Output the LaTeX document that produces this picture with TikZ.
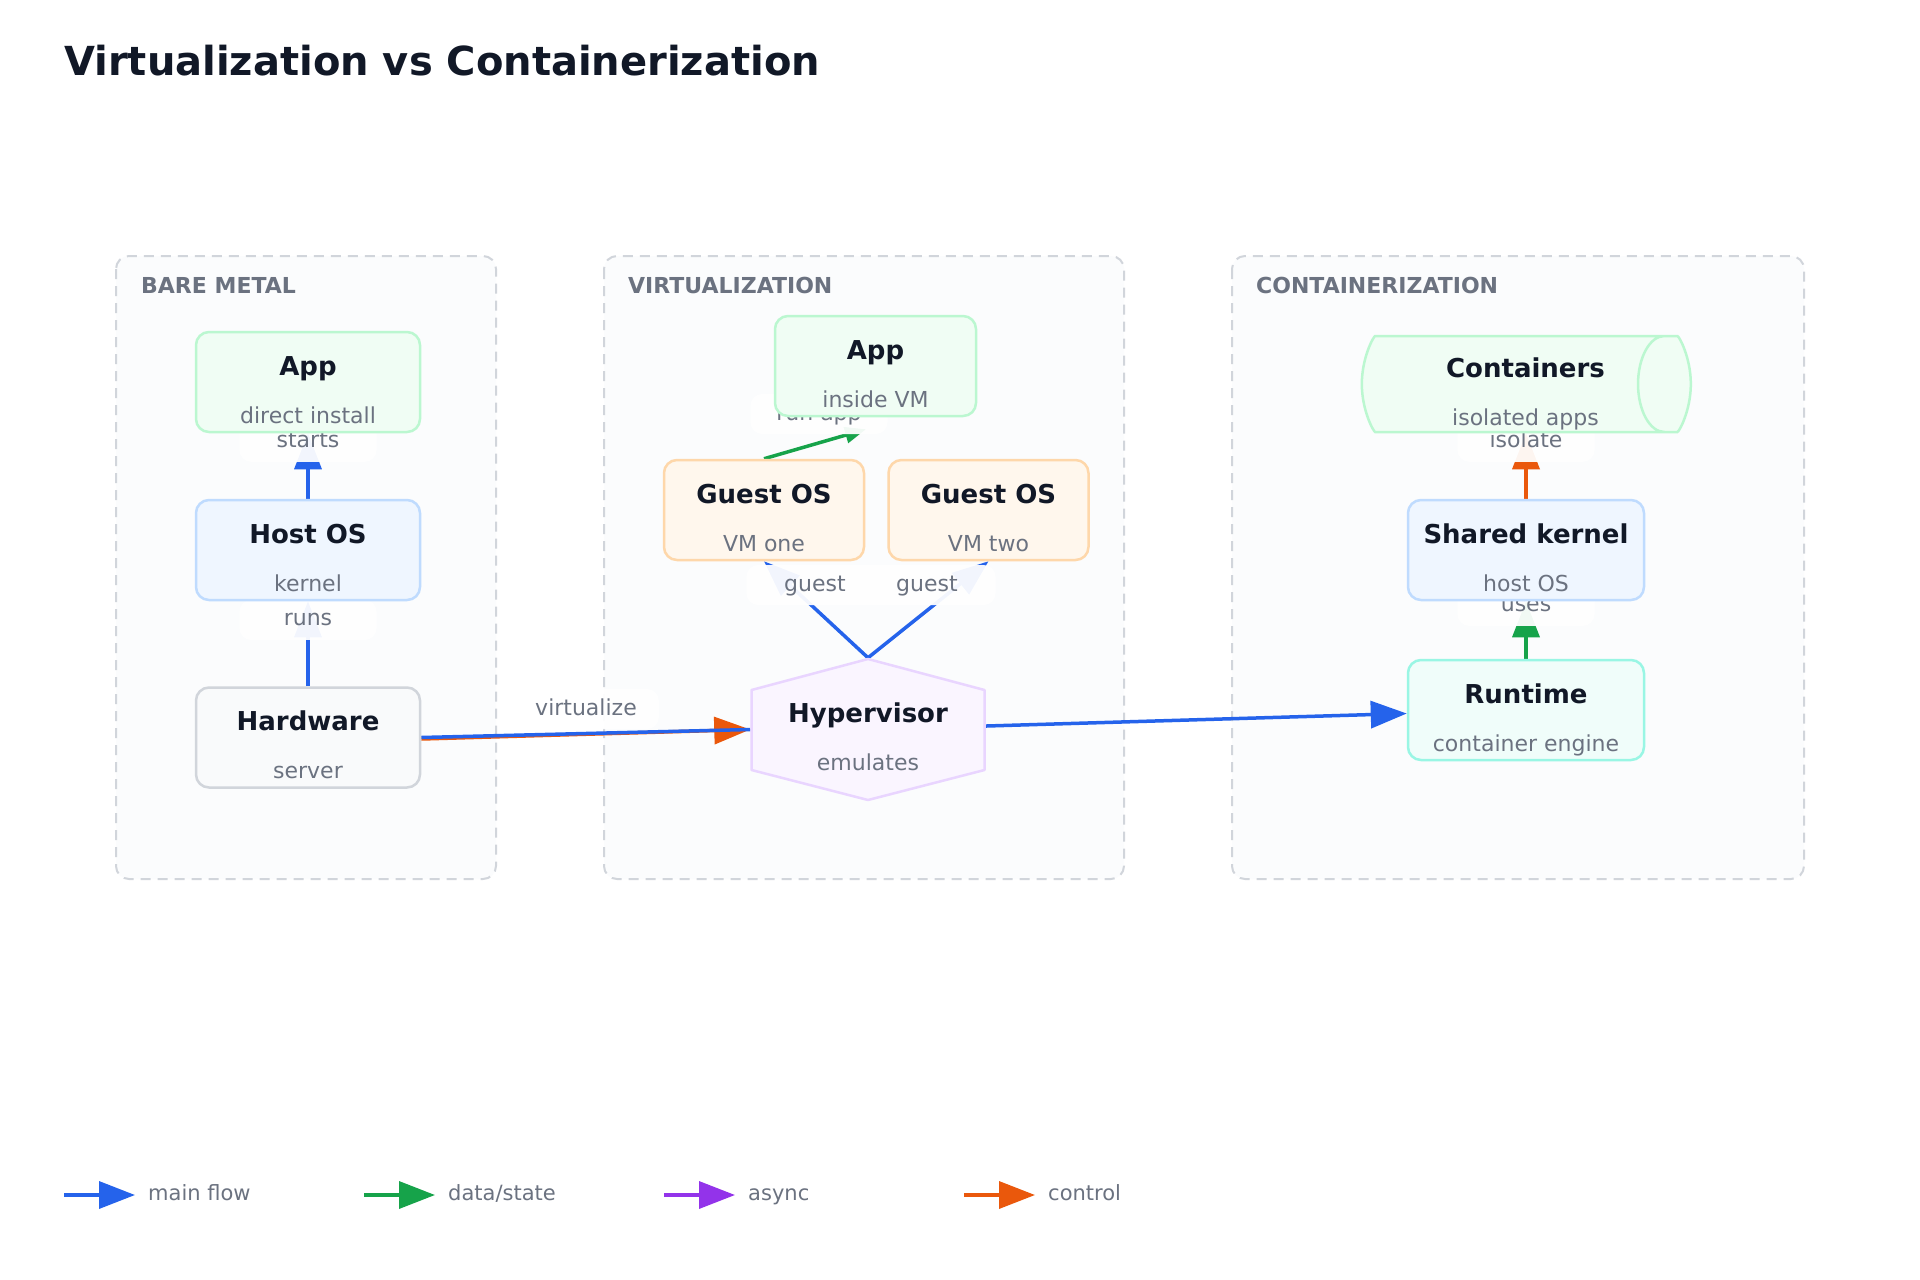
\documentclass[tikz,border=0pt]{standalone}
\usepackage{fontspec}
\setmainfont{DejaVu Sans}
\usetikzlibrary{arrows.meta,shapes.geometric,calc}

\definecolor{ink}{HTML}{111827}
\definecolor{muted}{HTML}{6B7280}
\definecolor{groupline}{HTML}{D1D5DB}
\definecolor{groupfill}{HTML}{FBFCFD}
\definecolor{greenfill}{HTML}{F0FDF4}
\definecolor{greenline}{HTML}{BBF7D0}
\definecolor{bluefill}{HTML}{EFF6FF}
\definecolor{blueline}{HTML}{BFDBFE}
\definecolor{grayfill}{HTML}{F9FAFB}
\definecolor{grayline}{HTML}{D1D5DB}
\definecolor{orangefill}{HTML}{FFF7ED}
\definecolor{orangeline}{HTML}{FED7AA}
\definecolor{purplefill}{HTML}{FAF5FF}
\definecolor{purpleline}{HTML}{E9D5FF}
\definecolor{tealfill}{HTML}{F0FDFA}
\definecolor{tealline}{HTML}{99F6E4}
\definecolor{flowblue}{HTML}{2563EB}
\definecolor{flowgreen}{HTML}{16A34A}
\definecolor{flowpurple}{HTML}{9333EA}
\definecolor{floworange}{HTML}{EA580C}

\newcommand{\boxtitle}[1]{{\color{ink}\fontsize{26}{31}\selectfont\bfseries #1}}

\pgfdeclarelayer{back}
\pgfdeclarelayer{edges}
\pgfsetlayers{back,edges,main}

\begin{document}
\begin{tikzpicture}[x=1pt,y=-1pt,
    box/.style={rounded corners=13pt, line width=2.5pt, inner sep=0pt, align=center,
      minimum height=100pt, text height=91pt, text depth=9pt,
      text=muted, font=\fontsize{22}{26}\selectfont},
    group/.style={draw=groupline, fill=groupfill, line width=2pt,
      dash pattern=on 10pt off 7pt, rounded corners=13pt},
    grouplabel/.style={anchor=west, inner sep=0pt, text=muted,
      font=\fontsize{22}{26}\selectfont\bfseries},
    elabel/.style={fill=white, fill opacity=0.94, text opacity=1, text=muted,
      rounded corners=12pt, minimum width=137pt, text height=17pt, text depth=5pt,
      inner xsep=22pt, inner ysep=9pt, font=\fontsize{22}{26}\selectfont},
    legendtext/.style={anchor=west, inner sep=0pt, text=muted, text height=16pt, text depth=5pt,
      font=\fontsize{21}{25}\selectfont},
    mainflow/.style={color=flowblue, line width=3.5pt, -{Triangle[length=36pt,width=27pt]}},
    dataflow/.style={color=flowgreen, line width=3.5pt, -{Triangle[length=36pt,width=27pt]}},
    asyncflow/.style={color=flowpurple, line width=3.5pt, -{Triangle[length=36pt,width=27pt]}},
    ctrlflow/.style={color=floworange, line width=3.5pt, -{Triangle[length=36pt,width=27pt]}}]

    % page and groups
    \begin{pgfonlayer}{back}
        \fill[white] (0,0) rectangle (1920,1280);
        \draw[group] (116,256) rectangle (496,879);
        \draw[group] (604,256) rectangle (1124,879);
        \draw[group] (1232,256) rectangle (1804,879);
    \end{pgfonlayer}
    \useasboundingbox (0,0) rectangle (1920,1280);

    \node[anchor=west, inner sep=0pt, text=ink, font=\fontsize{40}{48}\selectfont\bfseries] (title) at (64,61) {Virtualization vs Containerization};

    \node[grouplabel] (gbare) at (141,285) {BARE METAL};
    \node[grouplabel] (gvirt) at (628,285) {VIRTUALIZATION};
    \node[grouplabel] (gcont) at (1256,285) {CONTAINERIZATION};

    % bare metal
    \node[box, draw=greenline, fill=greenfill, minimum width=224pt] (bapp) at (308,382) {\boxtitle{App}\\[22pt]direct install};
    \node[box, draw=blueline, fill=bluefill, minimum width=224pt] (hostos) at (308,550) {\boxtitle{Host OS}\\[22pt]kernel};
    \node[box, draw=grayline, fill=grayfill, minimum width=224pt] (hw) at (308,737.5) {\boxtitle{Hardware}\\[22pt]server};

    % virtualization
    \node[box, draw=greenline, fill=greenfill, minimum width=201pt] (vapp) at (875.5,366) {\boxtitle{App}\\[22pt]inside VM};
    \node[box, draw=orangeline, fill=orangefill, minimum width=200pt] (guestA) at (764,510) {\boxtitle{Guest OS}\\[22pt]VM one};
    \node[box, draw=orangeline, fill=orangefill, minimum width=200pt] (guestB) at (988.5,510) {\boxtitle{Guest OS}\\[22pt]VM two};
    \coordinate (hypc) at (868,729.5);
    \filldraw[draw=purpleline, fill=purplefill, line width=2.5pt, line join=round]
        ($(hypc)+(0,-70.5)$) -- ($(hypc)+(116.5,-39.5)$) -- ($(hypc)+(116.5,40.5)$) -- ($(hypc)+(0,70.5)$)
        -- ($(hypc)+(-116.5,40.5)$) -- ($(hypc)+(-116.5,-39.5)$) -- cycle;
    \node[box, minimum width=233pt, minimum height=141pt, text height=111pt, text depth=30pt] (hyp) at (hypc) {\boxtitle{Hypervisor}\\[22pt]emulates};

    % containerization
    \node[box, cylinder, shape aspect=0.55, draw=greenline, fill=greenfill, minimum width=96pt, minimum height=329pt,
        text height=89pt, text depth=7pt] (ctrs) at (1512.5,384) {\hspace*{26pt}\boxtitle{Containers}\\[22pt]\hspace*{26pt}isolated apps};
    \node[box, draw=blueline, fill=bluefill, minimum width=236pt] (kernel) at (1526,550) {\boxtitle{Shared kernel}\\[22pt]host OS};
    \node[box, draw=tealline, fill=tealfill, minimum width=236pt] (runtime) at (1526,710) {\boxtitle{Runtime}\\[22pt]container engine};

    % connectors
    \begin{pgfonlayer}{edges}
        \draw[mainflow] (hostos) -- node[elabel, pos=0.87] (lstarts) {starts} (bapp);
        \draw[mainflow] (hw) -- node[elabel, pos=0.78] (lruns) {runs} (hostos);
        \draw[ctrlflow] ([yshift=-1.5pt]hw.east) -- (hyp.west);
        \draw[color=flowblue, line width=3.5pt] (hw.east) -- (hyp.west);
        \node[elabel] (lvirt) at (586,709) {virtualize};
        \draw[mainflow] (hyp.north) -- (guestA.south);
        \draw[mainflow] (hyp.north) -- (guestB.south);
        \node[elabel] (lguestA) at (815,585) {guest};
        \node[elabel] (lguestB) at (927,585) {guest};
        \draw[dataflow, -{Triangle[length=21pt,width=16pt]}] (guestA.north) -- ([xshift=-9.5pt,yshift=-12pt]vapp.south);
        \node[elabel] (lrun) at (819,414) {run app};
        \draw[mainflow] (hyp) -- (runtime);
        \draw[ctrlflow] (kernel) -- node[elabel, pos=0.87] (lisolate) {isolate} (kernel |- ctrs.south);
        \draw[dataflow] (runtime) -- node[elabel, pos=0.92] (luses) {uses} (kernel);
    \end{pgfonlayer}

    % legend
    \coordinate (lgmain) at (64,1195);
    \node[legendtext] (lgmaint) at (148,1195) {main flow};
    \draw[mainflow, shorten >=13pt] (lgmain) -- (lgmaint.west);
    \coordinate (lgdata) at (364,1195);
    \node[legendtext] (lgdatat) at (448,1195) {data/state};
    \draw[dataflow, shorten >=13pt] (lgdata) -- (lgdatat.west);
    \coordinate (lgasync) at (664,1195);
    \node[legendtext] (lgasynct) at (748,1195) {async};
    \draw[asyncflow, shorten >=13pt] (lgasync) -- (lgasynct.west);
    \coordinate (lgctrl) at (964,1195);
    \node[legendtext] (lgctrlt) at (1048,1195) {control};
    \draw[ctrlflow, shorten >=13pt] (lgctrl) -- (lgctrlt.west);
\end{tikzpicture}
\end{document}
